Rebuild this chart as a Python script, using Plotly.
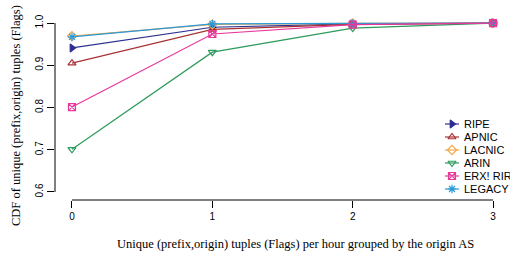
import plotly.graph_objects as go

x_vals = [0, 1, 2, 3]
series_names = ["RIPE", "APNIC", "LACNIC", "ARIN", "ERX! RIR", "LEGACY"]
ripe = [0.941, 0.990, 0.998, 1.0]
apnic = [0.905, 0.985, 0.997, 1.0]
lacnic = [0.969, 0.997, 0.999, 1.0]
arin = [0.701, 0.931, 0.988, 1.0]
erx = [0.801, 0.974, 0.996, 1.0]
legacy = [0.967, 0.998, 0.999, 1.0]
x_ticks = [0, 1, 2, 3]
y_ticks = [0.6, 0.7, 0.8, 0.9, 1.0]
y_ticklabels = ["0.6", "0.7", "0.8", "0.9", "1.0"]
x_title = "Unique (prefix,origin) tuples (Flags) per hour grouped by the origin AS"
y_title = "CDF of unique (prefix,origin) tuples (Flags)"

colors = ["#2b2f8f", "#a83232", "#f5a84a", "#2e9a5c", "#e8379b", "#2b9ad9"]
symbols = ["triangle-right", "triangle-up-open", "diamond-open", "triangle-down-open",
           "square-x-open", "asterisk-open"]
data = [ripe, apnic, lacnic, arin, erx, legacy]
draw_order = [0, 1, 2, 3, 5, 4]

W, H = 510, 257
ML, MR, MT, MB = 55, 5, 15, 57
PW, PH = W - ML - MR, H - MT - MB

def px_x(p):
    return (p - ML) / PW

def px_y(p):
    return (H - MB - p) / PH

fig = go.Figure()
for i in draw_order:
    name, vals, c, s = series_names[i], data[i], colors[i], symbols[i]
    fig.add_trace(go.Scatter(
        x=x_vals, y=vals, name=name, mode="lines+markers", showlegend=False,
        line=dict(color=c, width=1.2),
        marker=dict(symbol=s, size=7, color=c, line=dict(color=c, width=1.2)),
    ))

# custom compact legend (R style)
leg_top, leg_step = 124, 13
leg_x0, leg_x1, leg_tx = 445, 459, 462
shapes = [
    dict(type="line", xref="paper", yref="y", x0=0, x1=0, y0=0.6, y1=1.0,
         line=dict(color="black", width=1)),
    dict(type="line", xref="x", yref="paper", x0=0, x1=3, y0=0, y1=0,
         line=dict(color="black", width=1)),
]
title_font = dict(family="Liberation Serif, Times New Roman", size=12.5, color="black")
annotations = [
    dict(x=px_x(295.5), y=px_y(244), xref="paper", yref="paper", text=x_title,
         showarrow=False, xanchor="center", yanchor="middle", font=title_font),
    dict(x=px_x(15.5), y=px_y(115.5), xref="paper", yref="paper", text=y_title,
         showarrow=False, xanchor="center", yanchor="middle", textangle=-90, font=title_font),
]
for i, (name, c, s) in enumerate(zip(series_names, colors, symbols)):
    py = leg_top + i * leg_step
    shapes.append(dict(type="line", xref="paper", yref="paper",
                       x0=px_x(leg_x0), x1=px_x(leg_x1), y0=px_y(py), y1=px_y(py),
                       line=dict(color=c, width=1.2)))
    fig.add_trace(go.Scatter(
        x=[px_x((leg_x0 + leg_x1) / 2)], y=[px_y(py)], xaxis="x2", yaxis="y2",
        mode="markers", showlegend=False, hoverinfo="skip", cliponaxis=False,
        marker=dict(symbol=s, size=7, color=c, line=dict(color=c, width=1.2)),
    ))
    annotations.append(dict(x=px_x(leg_tx), y=px_y(py), xref="paper", yref="paper",
                            text=name, showarrow=False, xanchor="left", yanchor="middle",
                            font=dict(size=11, color="black")))

fig.update_layout(
    width=W, height=H,
    margin=dict(l=ML, r=MR, t=MT, b=MB, autoexpand=False),
    plot_bgcolor="white", paper_bgcolor="white",
    font=dict(family="Liberation Sans, Arial", size=10, color="black"),
    xaxis=dict(range=[-0.121, 3.085], tickvals=x_ticks, ticks="outside", ticklen=7,
               tickcolor="black", showgrid=False, zeroline=False, showline=False,
               tickfont=dict(size=10)),
    yaxis=dict(range=[0.581, 1.019], tickvals=y_ticks, ticktext=y_ticklabels, ticks="outside",
               ticklen=7, tickcolor="black", showgrid=False, zeroline=False, showline=False,
               tickangle=-90, tickfont=dict(size=10)),
    xaxis2=dict(range=[0, 1], overlaying="x", visible=False, fixedrange=True),
    yaxis2=dict(range=[0, 1], overlaying="y", visible=False, fixedrange=True),
    shapes=shapes,
    annotations=annotations,
)

fig.write_html("out.html", config={"displayModeBar": False},
               post_script="document.body.style.margin='0';")
